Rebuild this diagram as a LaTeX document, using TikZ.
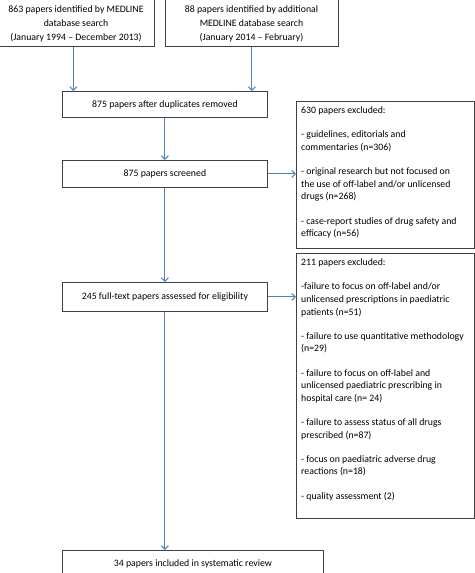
\documentclass[tikz,border=0pt]{standalone}
\usepackage{fontspec}
\setmainfont{Carlito}
\usetikzlibrary{arrows.meta}
\definecolor{arrblue}{RGB}{79,129,189}
\definecolor{boxgray}{RGB}{64,64,64}
\newcommand{\firstln}{\rule{0pt}{8pt}}
\begin{document}
\begin{tikzpicture}[x=1pt,y=-1pt,
 box/.style={draw=boxgray,line width=0.8pt,inner sep=0pt,anchor=north west,align=center,font=\fontsize{9.8}{12.6}\selectfont},
 arr/.style={draw=arrblue,line width=1pt,-{Straight Barb[length=3.5pt,width=7pt]}},
 txt/.style={inner sep=0pt,font=\fontsize{9.8}{12.6}\selectfont}]
\useasboundingbox (0,0) rectangle (474,573);
% top boxes
\node[box,minimum width=156pt,minimum height=48pt] (A) at (-2,-2) {};
\node[box,minimum width=173pt,minimum height=48pt] (B) at (165,-2) {};
\node[txt,align=center,anchor=north,font=\fontsize{9.8}{14}\selectfont] (At) at (76,4.5)
  {\firstln 863 papers identified by MEDLINE\\database search\\(January 1994 – December 2013)};
\node[txt,align=center,anchor=north,font=\fontsize{9.8}{14}\selectfont] (Bt) at (251.5,4.5)
  {\firstln 88 papers identified by additional\\MEDLINE database search\\(January 2014 – February)};
% main column
\node[box,minimum width=205pt,minimum height=26pt] (dup) at (62,91) {875 papers after duplicates removed};
\node[box,minimum width=205pt,minimum height=27pt] (scr) at (62,160) {875 papers screened};
\node[box,minimum width=205pt,minimum height=29pt] (elig) at (62,282) {245 full-text papers assessed for eligibility};
\node[box,minimum width=261pt,minimum height=27pt] (final) at (62,550) {34 papers included in systematic review};
% exclusion boxes
\node[box,minimum width=177.5pt,minimum height=147pt] (ex1) at (296,101) {};
\node[box,minimum width=177.5pt,minimum height=265pt] (ex2) at (296,253) {};
\node[txt,align=left,anchor=north west] (ex1t) at (301,105.5)
  {\firstln 630 papers excluded:\\[11.6pt]- guidelines, editorials and\\commentaries (n=306)\\[11.6pt]- original research but not focused on\\the use of off-label and/or unlicensed\\drugs (n=268)\\[11.6pt]- case-report studies of drug safety and\\efficacy (n=56)};
\node[txt,align=left,anchor=north west] (ex2t) at (301,257.5)
  {\firstln 211 papers excluded:\\[11.6pt]-failure to focus on off-label and/or\\unlicensed prescriptions in paediatric\\patients (n=51)\\[11.6pt]- failure to use quantitative methodology\\(n=29)\\[11.6pt]- failure to focus on off-label and\\unlicensed paediatric prescribing in\\hospital care (n= 24)\\[11.6pt]- failure to assess status of all drugs\\prescribed (n=87)\\[11.6pt]- focus on paediatric adverse drug\\reactions (n=18)\\[11.6pt]- quality assessment (2)};
% connectors
\draw[arr] ([xshift=-3pt]A.south) -- ([xshift=-3pt]A.south |- dup.north);
\draw[arr] (B.south) -- (B.south |- dup.north);
\draw[arr] (dup.south) -- (scr.north);
\draw[arr] (scr.east) -- (scr.east -| ex1.west);
\draw[arr] (scr.south) -- (elig.north);
\draw[arr] (elig.east) -- (elig.east -| ex2.west);
\draw[arr] (elig.south) -- (elig.south |- final.north);
\end{tikzpicture}
\end{document}
